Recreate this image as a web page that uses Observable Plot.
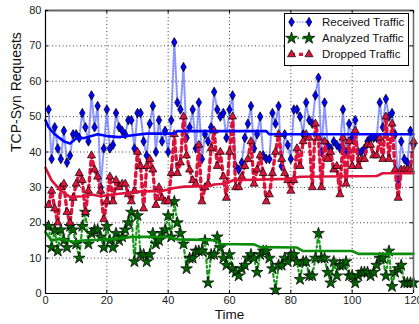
<!DOCTYPE html>
<html>
<head>
<meta charset="utf-8">
<script src="https://cdn.jsdelivr.net/npm/d3@7"></script>
<script src="https://cdn.jsdelivr.net/npm/@observablehq/plot@0.6"></script>
<style>
  body { margin: 0; background: #fff; }
  #wrap { position: relative; width: 419px; height: 324px; overflow: hidden; }
  #legend { position: absolute; left: 284px; top: 13px; }
</style>
</head>
<body>
<div id="wrap"></div>
<script>
// ---- data ----
const time = d3.range(1, 121);
const received = [52,38,47,41,38,46,37,39,45,45,44,51,47,43,56,47,53,30,41,52,
  41,42,51,47,46,45,49,49,41,51,51,43,39,48,53,40,49,43,46,40,
  49,71,54,52,64,44,47,52,41,54,38,45,43,47,57,52,50,51,44,52,
  56,36,35,37,44,48,53,41,45,50,39,38,38,51,48,53,36,45,42,38,
  52,52,50,45,54,49,48,56,61,40,54,42,41,43,42,41,52,40,48,44,
  49,40,40,41,43,44,44,44,54,47,55,50,51,45,32,43,38,37,46,42];
const analyzed = [19,13,18,12,18,15,13,19,18,14,10,19,23,14,17,18,18,16,13,19,
  15,13,17,15,16,18,20,23,9,22,11,11,9,11,17,14,15,17,18,22,
  16,26,20,17,14,7,10,10,12,12,12,15,3,11,11,16,13,10,8,11,
  7,6,5,7,8,10,11,10,6,11,12,12,10,7,1,8,8,10,9,11,
  11,9,4,9,9,5,5,10,17,10,10,6,3,9,5,8,8,9,5,5,
  3,5,6,6,6,5,6,8,10,10,5,12,2,6,7,8,3,3,3,3];
const dropped = [25,29,24,20,30,31,23,20,27,31,34,32,23,29,39,35,33,29,21,26,
  33,26,32,30,31,31,28,26,29,40,36,24,36,38,35,25,30,27,26,26,
  34,45,34,37,50,39,35,32,31,42,26,30,31,41,46,36,40,33,27,40,
  50,30,30,33,36,38,43,31,35,39,34,26,28,34,40,45,38,34,32,29,
  32,41,36,43,45,44,30,48,44,30,43,38,40,35,36,28,44,31,43,36,
  46,36,38,38,42,42,39,39,44,38,50,38,48,35,27,35,35,35,35,43];
// running-average lines (breakpoints)
const avgReceivedT = [0,1,3,6,8,10,13,17,20,24,29,33,42,43,72,73,120];
const avgReceivedV = [49,47,45,43,42.4,43.8,44,45,44.5,44.2,44.8,45.2,45.2,45.9,45.9,45,45];
const avgDroppedT = [0,2,5,8,12,15,18,22,30,38,42,45,53,55,59,61,79,83,108,110,120];
const avgDroppedV = [35.5,32,29,27.3,27.5,28,27.5,28,28.8,29,29.8,30.2,30.3,30.8,31.1,32,32.4,33,33.2,34,34];
const avgAnalyzedT = [0,2,5,9,12,18,25,28,40,43,55,57,68,70,82,84,100,102,120];
const avgAnalyzedV = [17.3,15,15.5,14.6,15,15.2,15.6,16,16,15.3,15.1,14,13.9,13.1,13,12,12,11.2,11.2];
const xTicks = [0,20,40,60,80,100,120];
const yTicks = [0,10,20,30,40,50,60,70,80];
const seriesNames = ["Received Traffic","Analyzed Traffic","Dropped Traffic"];

// ---- styles ----
const BLUE = "#0000ff", RED = "#dc143c", GREEN_M = "#006400", GREEN_L = "#0a8c0a";

const rec = time.map((t,i)=>({t, v: received[i]}));
const ana = time.map((t,i)=>({t, v: analyzed[i]}));
const dro = time.map((t,i)=>({t, v: dropped[i]}));
const aRec = avgReceivedT.map((t,i)=>({t, v: avgReceivedV[i]}));
const aDro = avgDroppedT.map((t,i)=>({t, v: avgDroppedV[i]}));
const aAna = avgAnalyzedT.map((t,i)=>({t, v: avgAnalyzedV[i]}));

const chart = Plot.plot({
  width: 419, height: 324,
  marginLeft: 45, marginRight: 6, marginTop: 10, marginBottom: 31,
  style: { fontFamily: "'Liberation Sans', Arial, sans-serif", fontSize: "11px", color: "#222", background: "#fff", overflow: "hidden" },
  x: { domain: [0, 120] },
  y: { domain: [0, 80] },
  marks: [
    Plot.gridX(xTicks, { stroke: "#000", strokeOpacity: 0.75, strokeDasharray: "1,2.5", strokeWidth: 1 }),
    Plot.gridY(yTicks, { stroke: "#000", strokeOpacity: 0.75, strokeDasharray: "1,2.5", strokeWidth: 1 }),
    // received
    Plot.line(rec, { x: "t", y: "v", stroke: "#3a4cff", strokeOpacity: 0.6, strokeWidth: 2.2, strokeDasharray: "1,1.8" }),
    Plot.dot(rec, { x: "t", y: "v", symbol: "diamond", r: 2.9, fill: BLUE, stroke: "#000", strokeWidth: 0.7 }),
    // analyzed
    Plot.line(ana, { x: "t", y: "v", stroke: "#1a9a1a", strokeWidth: 2.2, strokeDasharray: "3.5,3,1.5,3" }),
    Plot.dot(ana, { x: "t", y: "v", symbol: "star", r: 3.7, fill: GREEN_M, stroke: "#000", strokeWidth: 0.7 }),
    // dropped
    Plot.line(dro, { x: "t", y: "v", stroke: RED, strokeWidth: 3.4, strokeDasharray: "4,4" }),
    Plot.dot(dro, { x: "t", y: "v", symbol: "triangle", r: 3, fill: RED, stroke: "#000", strokeWidth: 0.7 }),
    // averages
    Plot.line(aRec, { x: "t", y: "v", stroke: BLUE, strokeWidth: 2.6 }),
    Plot.line(aAna, { x: "t", y: "v", stroke: GREEN_L, strokeWidth: 2.6 }),
    Plot.line(aDro, { x: "t", y: "v", stroke: RED, strokeWidth: 2.6 }),
    // box
    Plot.ruleX([120], { stroke: "#666", strokeWidth: 1.5 }),
    Plot.ruleY([80], { stroke: "#666", strokeWidth: 1.8 }),
    Plot.ruleX([0], { stroke: "#000", strokeWidth: 1.2 }),
    Plot.ruleY([0], { stroke: "#000", strokeWidth: 1.2 }),
    // inward ticks
    Plot.ruleX(xTicks, { y1: 0, y2: 0.9, stroke: "#000" }),
    Plot.ruleX(xTicks, { y1: 79.1, y2: 80, stroke: "#000" }),
    Plot.ruleY(yTicks, { x1: 0, x2: 1, stroke: "#000" }),
    Plot.ruleY(yTicks, { x1: 119, x2: 120, stroke: "#000" }),
    Plot.axisX(xTicks, { tickSize: 0, tickPadding: 3, label: null, fontSize: 11 }),
    Plot.axisY(yTicks, { tickSize: 0, tickPadding: 4, label: null, fontSize: 11 }),
    Plot.text(["TCP-Syn Requests"], { frameAnchor: "left", dx: -29, rotate: -90, fontSize: 14, fill: "#111" }),
    Plot.text(["Time"], { frameAnchor: "bottom", dy: 25, fontSize: 13.5, fill: "#111" })
  ]
});
document.getElementById("wrap").appendChild(chart);

// ---- legend ----
const lw = 125, lh = 53;
const leg = d3.select("#wrap").append("svg").attr("id", "legend").attr("width", lw).attr("height", lh);
leg.append("rect").attr("x", 0.5).attr("y", 0.5).attr("width", lw - 1).attr("height", lh - 1).attr("fill", "#fff").attr("stroke", "#000");
const legStyles = [
  { stroke: "#3a4cff", op: 0.6, dash: "1,1.8", w: 2.2, sym: d3.symbolDiamond, size: 26, fill: BLUE },
  { stroke: "#1a9a1a", op: 1, dash: "3.5,3,1.5,3", w: 2.2, sym: d3.symbolStar, size: 43, fill: GREEN_M },
  { stroke: RED, op: 1, dash: "4,4", w: 3.4, sym: d3.symbolTriangle, size: 28, fill: RED }
];
seriesNames.forEach((name, i) => {
  const s = legStyles[i];
  const y = 9 + i * 16.2;
  leg.append("line").attr("x1", 7).attr("x2", 25).attr("y1", y).attr("y2", y)
    .attr("stroke", s.stroke).attr("stroke-opacity", s.op).attr("stroke-width", s.w).attr("stroke-dasharray", s.dash);
  [7.5, 25].forEach(x => {
    leg.append("path").attr("d", d3.symbol(s.sym, s.size)()).attr("transform", `translate(${x},${y})`)
      .attr("fill", s.fill).attr("stroke", "#000").attr("stroke-width", 0.7);
  });
  leg.append("text").attr("x", 38).attr("y", y).attr("dy", "0.35em")
    .attr("font-family", "'Liberation Sans', Arial, sans-serif").attr("font-size", 11.5).attr("fill", "#111").text(name);
});
</script>
</body>
</html>
